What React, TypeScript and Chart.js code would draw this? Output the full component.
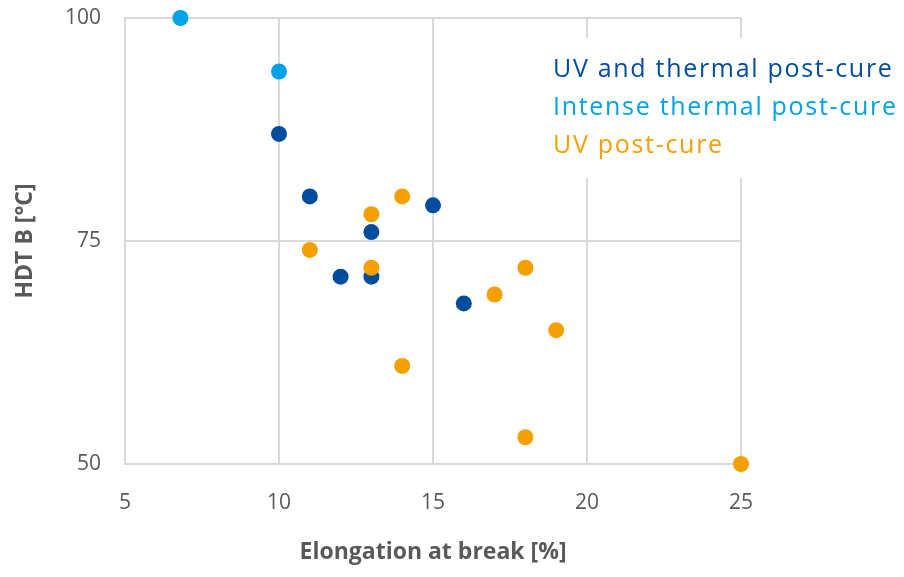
import React, { useEffect, useRef } from "react";
import Chart from "chart.js/auto";

const seriesNames = ["UV and thermal post-cure", "Intense thermal post-cure", "UV post-cure"];
const seriesColors = ["#004C9D", "#00A3E8", "#F59F00"];

const uvThermalX = [10, 11, 13, 13, 12, 15, 16];
const uvThermalY = [87, 80, 76, 71, 71, 79, 68];

const intenseX = [6.8, 10];
const intenseY = [100, 94];

const uvX = [11, 13, 13, 14, 14, 17, 18, 19, 18, 25];
const uvY = [74, 78, 72, 80, 61, 69, 72, 65, 53, 50];

const xTicks = [5, 10, 15, 20, 25];
const yTicks = [50, 75, 100];

const xTitle = "Elongation at break [%]";
const yTitle = "HDT B [°C]";

const FONT = "'Open Sans', sans-serif";
const GRID = "#d9d9d9";
const TEXT = "#595959";

function pts(xs: number[], ys: number[]) {
  return xs.map((x, i) => ({ x, y: ys[i] }));
}

const legendPlugin = {
  id: "textLegend",
  afterDraw(chart: any) {
    const ctx = chart.ctx;
    ctx.save();
    ctx.fillStyle = "#ffffff";
    ctx.fillRect(540, 38, 364, 140);
    ctx.font = `25px ${FONT}`;
    (ctx as any).letterSpacing = "1.7px";
    ctx.textBaseline = "middle";
    ctx.textAlign = "left";
    seriesNames.forEach((n, i) => {
      ctx.fillStyle = seriesColors[i];
      ctx.fillText(n, 553, 70 + i * 38);
    });
    ctx.restore();
  },
};

export default function App() {
  const ref = useRef<HTMLCanvasElement>(null);
  useEffect(() => {
    document.body.style.margin = "0";
    const chart = new Chart(ref.current!, {
      type: "scatter",
      data: {
        datasets: [
          { label: seriesNames[0], data: pts(uvThermalX, uvThermalY), backgroundColor: seriesColors[0], borderColor: seriesColors[0], pointRadius: 8, pointBorderWidth: 0, order: 2, clip: false },
          { label: seriesNames[1], data: pts(intenseX, intenseY), backgroundColor: seriesColors[1], borderColor: seriesColors[1], pointRadius: 8, pointBorderWidth: 0, order: 1, clip: false },
          { label: seriesNames[2], data: pts(uvX, uvY), backgroundColor: seriesColors[2], borderColor: seriesColors[2], pointRadius: 8, pointBorderWidth: 0, order: 0, clip: false },
        ],
      },
      options: {
        animation: false,
        responsive: false,
        layout: { padding: { top: 18, right: 163, left: 0, bottom: 0 } },
        plugins: { legend: { display: false }, tooltip: { enabled: false } },
        scales: {
          x: {
            type: "linear",
            min: 5,
            max: 25,
            afterFit: (s: any) => { s.height = 113; },
            afterBuildTicks: (s: any) => { s.ticks = xTicks.map((v) => ({ value: v })); },
            grid: { color: GRID, lineWidth: 2, drawTicks: false },
            border: { color: GRID, width: 2 },
            ticks: { padding: 26, color: TEXT, font: { family: FONT, size: 21 } },
            title: { display: true, text: xTitle, color: TEXT, padding: { top: 0, bottom: 11 }, font: { family: FONT, size: 23, weight: "bold" } },
          },
          y: {
            type: "linear",
            min: 50,
            max: 100,
            afterFit: (s: any) => { s.width = 125; s.paddingTop = 0; s.paddingBottom = 0; },
            afterBuildTicks: (s: any) => { s.ticks = yTicks.map((v) => ({ value: v })); },
            grid: { color: GRID, lineWidth: 2, drawTicks: false },
            border: { color: GRID, width: 2 },
            ticks: { padding: 24, color: TEXT, font: { family: FONT, size: 21 } },
            title: { display: true, text: yTitle, color: TEXT, padding: { top: 12, bottom: 0 }, font: { family: FONT, size: 23, weight: "bold" } },
          },
        },
      },
      plugins: [legendPlugin],
    });
    return () => chart.destroy();
  }, []);
  return (
    <div style={{ width: 904, height: 577 }}>
      <canvas ref={ref} width={904} height={577} style={{ display: "block" }} />
    </div>
  );
}
